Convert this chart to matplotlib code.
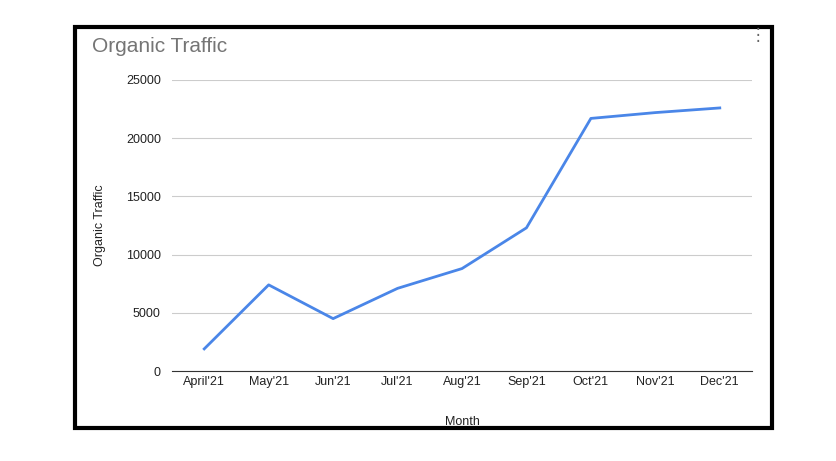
import matplotlib.pyplot as plt
from matplotlib.patches import Rectangle

months = ["April'21", "May'21", "Jun'21", "Jul'21", "Aug'21", "Sep'21", "Oct'21", "Nov'21", "Dec'21"]
traffic = [1900, 7400, 4500, 7100, 8800, 12300, 21700, 22200, 22600]
yticks = [0, 5000, 10000, 15000, 20000, 25000]

plt.rcParams["font.family"] = ["Liberation Sans", "DejaVu Sans"]
fig = plt.figure(figsize=(8.36, 4.61), dpi=100)

# black frame around the chart card
fig.patches.append(Rectangle((75 / 836, 1 - 428 / 461), 697 / 836, 401 / 461,
                             transform=fig.transFigure, fill=False,
                             edgecolor="black", linewidth=3))

ax = fig.add_axes([172 / 836, 1 - 371 / 461, 580 / 836, 291 / 461])
ax.plot(range(len(months)), traffic, color="#4a86e8", linewidth=2)
ax.set_xlim(-0.5, len(months) - 0.5)
ax.set_ylim(0, 25000)
ax.set_yticks(yticks)
ax.set_xticks(range(len(months)))
ax.set_xticklabels(months)
ax.tick_params(length=0, labelsize=9, colors="#222222")
ax.tick_params(axis="y", pad=8)
ax.grid(axis="y", color="#cccccc", linewidth=0.8)
ax.set_axisbelow(True)
for side in ["top", "right", "left"]:
    ax.spines[side].set_visible(False)
ax.spines["bottom"].set_color("#333333")
ax.set_xlabel("Month", fontsize=9, color="#222222", labelpad=20)
ax.set_ylabel("Organic Traffic", fontsize=9, color="#222222", labelpad=14)

fig.text(92 / 836, 1 - 47 / 461, "Organic Traffic", fontsize=15, color="#757575", va="center")
fig.text(758 / 836, 1 - 36 / 461, "\u22ee", fontsize=12, color="#666666", ha="center", va="center")

fig.savefig("out.png")
